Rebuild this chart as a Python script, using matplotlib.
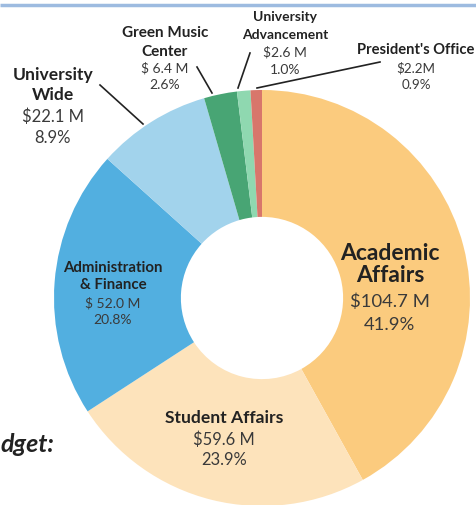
import matplotlib.pyplot as plt

# budget by division, $ millions
divisions = ["Academic Affairs", "Student Affairs", "Administration & Finance",
             "University Wide", "Green Music Center", "University Advancement",
             "President's Office"]
amounts = [104.7, 59.6, 52.0, 22.1, 6.4, 2.6, 2.2]
shares = [41.9, 23.9, 20.8, 8.9, 2.6, 1.0, 0.9]
colors = ["#fbcb7e", "#fde3bb", "#52afe0", "#a2d3ec", "#48a574", "#8fd8b0", "#d8766b"]

W, H = 477, 505
plt.rcParams['font.family'] = ['Lato', 'DejaVu Sans']

fig = plt.figure(figsize=(W / 100, H / 100), dpi=100)
ax = fig.add_axes([0, 0, 1, 1])

cx, cy, R = 262, H - 298, 208
ax.pie(amounts, colors=colors, startangle=90, counterclock=False,
       center=(cx, cy), radius=R, wedgeprops=dict(width=R * 0.61, linewidth=0))
ax.set_xlim(0, W)
ax.set_ylim(0, H)
ax.set_aspect('auto')
ax.axis('off')


def top(y):
    return H - y


def label(x, ys, head, money, pct, hsize, vsize):
    # bold heading lines followed by amount and share
    lines = head.split("\n")
    for ln, y in zip(lines, ys):
        ax.text(x, top(y), ln, ha='center', va='center',
                fontsize=hsize, fontweight='bold', color='#222222')
    ax.text(x, top(ys[-2]), money, ha='center', va='center', fontsize=vsize, color='#3a3a3a')
    ax.text(x, top(ys[-1]), pct, ha='center', va='center', fontsize=vsize, color='#3a3a3a')


fmt = "{:.1f}%"
label(390, [254, 275, 302, 325], "Academic\nAffairs", "$104.7 M", fmt.format(shares[0]), 16.5, 13.3)
label(224, [418, 440, 460], "Student Affairs", "$59.6 M", fmt.format(shares[1]), 12.6, 11.9)
label(113, [268, 285, 303, 320], "Administration\n& Finance", "$ 52.0 M", fmt.format(shares[2]), 10.8, 10)
label(53, [75, 95, 117, 138], "University\nWide", "$22.1 M", fmt.format(shares[3]), 12.6, 12)
label(165, [33, 52, 68, 85], "Green Music\nCenter", "$ 6.4 M", fmt.format(shares[4]), 11, 10)
label(285, [17, 35, 52, 70], "University\nAdvancement", "$2.6 M", fmt.format(shares[5]), 10, 10)
label(416, [50, 68, 85], "President's Office", "$2.2M", fmt.format(shares[6]), 10.6, 9.6)

# leader lines to the small slices
leaders = [((100, 85), (143, 124)), ((197, 67), (212, 93)),
           ((250, 53), (238, 88)), ((380, 62), (257, 88))]
for (x0, y0), (x1, y1) in leaders:
    ax.plot([x0, x1], [top(y0), top(y1)], color='#222222', lw=1.2)

# rule along the top and the heading fragment on the left
ax.plot([0, W], [top(4.5), top(4.5)], color='#9dbbe0', lw=2.5, solid_capstyle='butt')
ax.text(0, top(444), "dget:", ha='left', va='center', fontsize=18,
        fontweight='bold', fontstyle='italic', color='#222222')

fig.savefig("out.png", dpi=100)
